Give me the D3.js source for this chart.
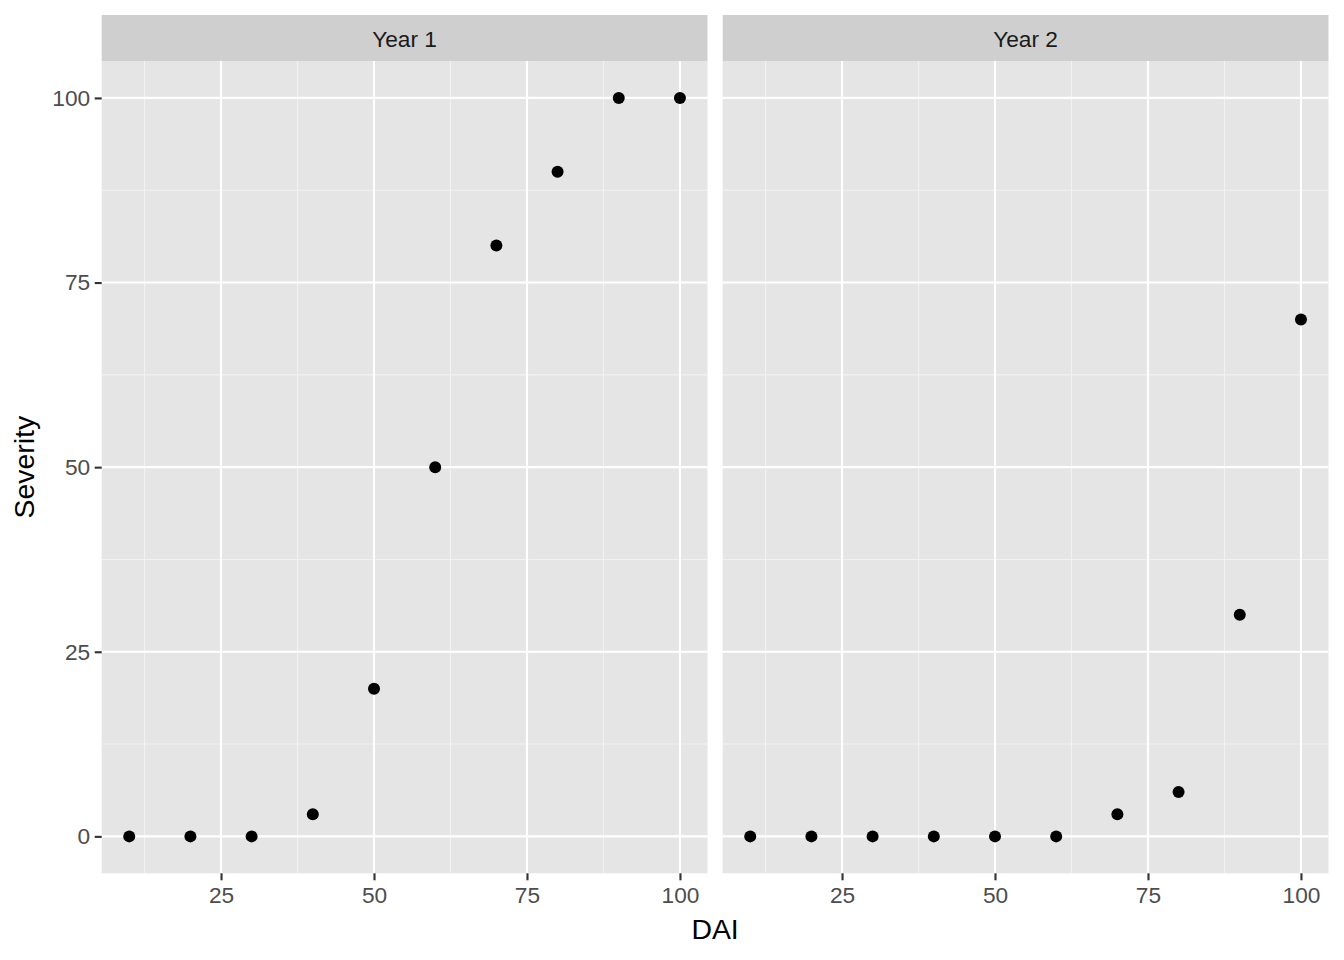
<!DOCTYPE html>
<html><head><meta charset="utf-8">
<script src="https://cdn.jsdelivr.net/npm/d3@7"></script>
<style>body{margin:0;background:#fff;font-family:"Liberation Sans",Arial,sans-serif}</style>
</head><body>
<script>
const facets = ["Year 1", "Year 2"];
const dai = [10, 20, 30, 40, 50, 60, 70, 80, 90, 100];
const severityYear1 = [0, 0, 0, 3, 20, 50, 80, 90, 100, 100];
const severityYear2 = [0, 0, 0, 0, 0, 0, 3, 6, 30, 70];
const xTicks = [25, 50, 75, 100];
const xMinor = [12.5, 37.5, 62.5, 87.5];
const yTicks = [0, 25, 50, 75, 100];
const yMinor = [12.5, 37.5, 62.5, 87.5];
const seriesByFacet = [severityYear1, severityYear2];

const W = 1344, H = 960;
const FONT = "Liberation Sans, Arial, sans-serif";
const svg = d3.select("body").append("svg").attr("width", W).attr("height", H).attr("font-family", FONT);
const panelLefts = [101.7, 722.7];
const panelW = 605.8;
const stripTop = 15, panelTop = 61, panelBottom = 873.3;

const y = d3.scaleLinear().domain([-5, 105]).range([panelBottom, panelTop]);

function styleAxis(a) {
  a.attr("font-family", FONT).attr("font-size", null);
  a.select(".domain").remove();
  a.selectAll(".tick line").attr("stroke", "#333").attr("stroke-width", 2.13);
  a.selectAll(".tick text").attr("fill", "#4D4D4D").style("font-size", "22.7px").style("font-family", FONT);
}

facets.forEach((f, i) => {
  const x0 = panelLefts[i];
  const x = d3.scaleLinear().domain([5.5, 104.5]).range([x0, x0 + panelW]);
  const g = svg.append("g");
  g.append("rect").attr("x", x0).attr("y", stripTop).attr("width", panelW).attr("height", panelTop - stripTop).attr("fill", "#CFCFCF");
  g.append("text").attr("x", x0 + panelW / 2).attr("y", (stripTop + panelTop) / 2).attr("dy", "0.38em")
    .attr("text-anchor", "middle").style("font-size", "22.7px").attr("fill", "#1A1A1A").text(f);
  g.append("rect").attr("x", x0).attr("y", panelTop).attr("width", panelW).attr("height", panelBottom - panelTop).attr("fill", "#E5E5E5");
  yMinor.forEach(v => g.append("line").attr("x1", x0).attr("x2", x0 + panelW).attr("y1", y(v)).attr("y2", y(v)).attr("stroke", "#F2F2F2").attr("stroke-width", 1.07));
  xMinor.forEach(v => g.append("line").attr("y1", panelTop).attr("y2", panelBottom).attr("x1", x(v)).attr("x2", x(v)).attr("stroke", "#F2F2F2").attr("stroke-width", 1.07));
  yTicks.forEach(v => g.append("line").attr("x1", x0).attr("x2", x0 + panelW).attr("y1", y(v)).attr("y2", y(v)).attr("stroke", "#fff").attr("stroke-width", 2.13));
  xTicks.forEach(v => g.append("line").attr("y1", panelTop).attr("y2", panelBottom).attr("x1", x(v)).attr("x2", x(v)).attr("stroke", "#fff").attr("stroke-width", 2.13));
  g.selectAll("circle.pt").data(dai.map((d, k) => [d, seriesByFacet[i][k]])).enter().append("circle")
    .attr("cx", d => x(d[0])).attr("cy", d => y(d[1])).attr("r", 6).attr("fill", "#000");
  const xa = svg.append("g").attr("transform", `translate(0,${panelBottom})`)
    .call(d3.axisBottom(x).tickValues(xTicks).tickSize(7).tickPadding(6.5).tickFormat(d3.format("d")));
  styleAxis(xa);
});

const ya = svg.append("g").attr("transform", `translate(${panelLefts[0]},0)`)
  .call(d3.axisLeft(y).tickValues(yTicks).tickSize(7).tickPadding(4.5).tickFormat(d3.format("d")));
styleAxis(ya);

svg.append("text").attr("x", (panelLefts[0] + panelLefts[1] + panelW) / 2).attr("y", 939)
  .attr("text-anchor", "middle").style("font-size", "28.4px").attr("fill", "#000").text("DAI");
svg.append("text").attr("transform", `translate(34,${(panelTop + panelBottom) / 2}) rotate(-90)`)
  .attr("text-anchor", "middle").style("font-size", "28.4px").attr("fill", "#000").text("Severity");
</script>
</body></html>
